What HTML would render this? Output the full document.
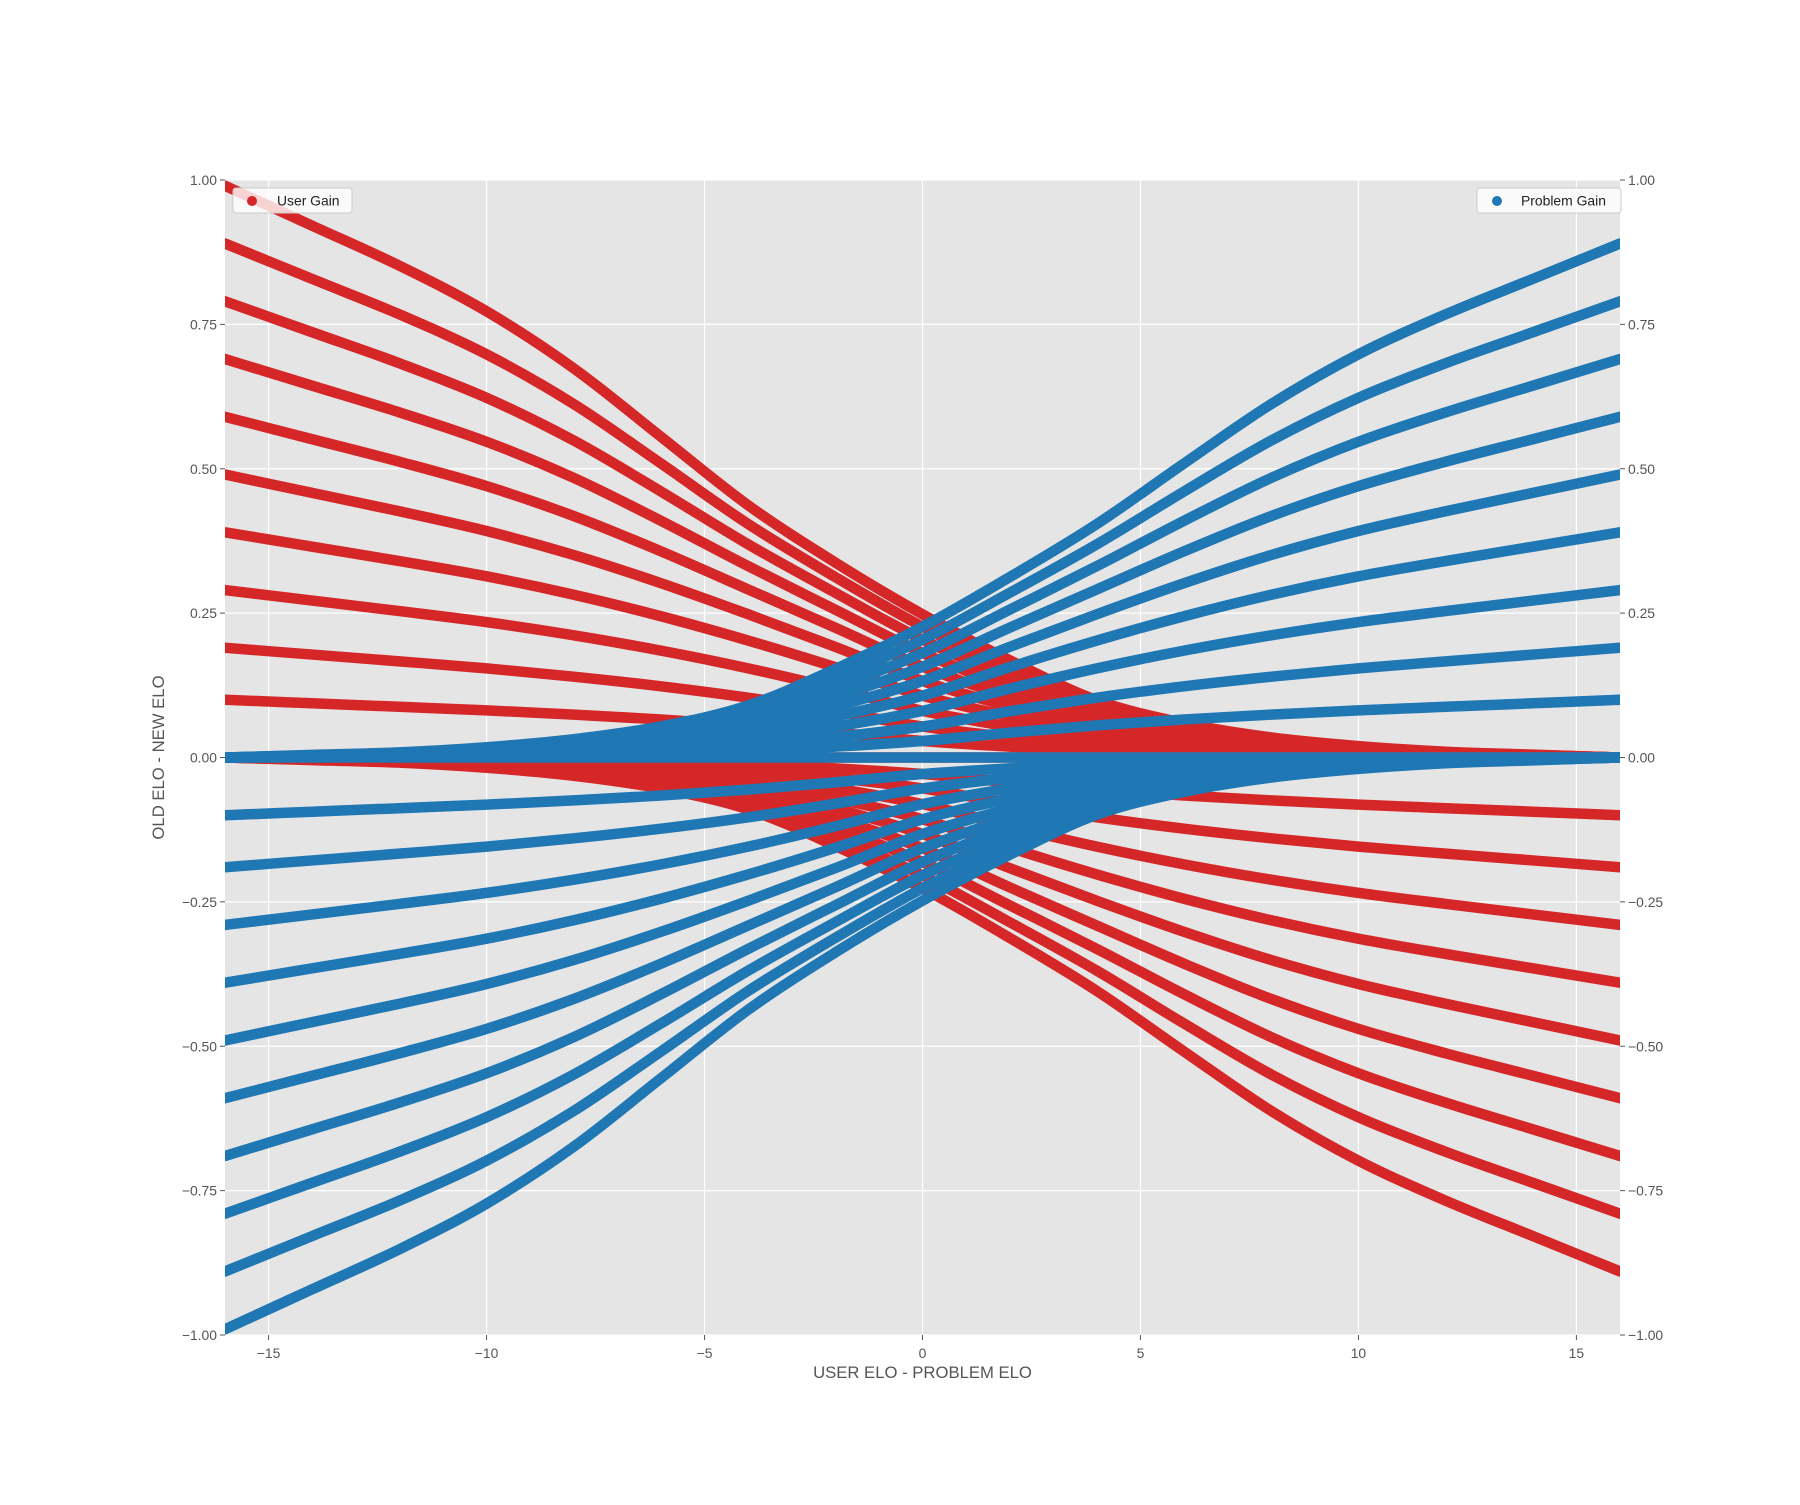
<!DOCTYPE html>
<html><head><meta charset="utf-8"><style>
html,body{margin:0;padding:0;background:#fff;}
svg text{font-family:"Liberation Sans","DejaVu Sans",sans-serif;}
</style></head><body>
<svg id="chart" width="1800" height="1500" viewBox="0 0 1800 1500" xmlns="http://www.w3.org/2000/svg">
<defs><clipPath id="plotclip"><rect x="225" y="180" width="1395" height="1155"/></clipPath></defs>
<rect x="225" y="180" width="1395" height="1155" fill="#e5e5e5"/>
<g id="grid"></g>
<g id="ticks"></g>
<g id="series" clip-path="url(#plotclip)"></g>
<text x="922.5" y="1378" text-anchor="middle" font-size="16.7" fill="#555">USER ELO - PROBLEM ELO</text>
<text transform="translate(164,757.5) rotate(-90)" text-anchor="middle" font-size="16.7" fill="#555">OLD ELO - NEW ELO</text>
<g>
<rect x="233" y="188" width="119" height="25" rx="3" fill="#ffffff" fill-opacity="0.8" stroke="#cccccc" stroke-width="1"/>
<circle cx="252" cy="201" r="5" fill="#d62728"/>
<text x="277" y="205.5" font-size="13.9" fill="#222">User Gain</text>
</g>
<g>
<rect x="1477" y="188" width="144" height="25" rx="3" fill="#ffffff" fill-opacity="0.8" stroke="#cccccc" stroke-width="1"/>
<circle cx="1497" cy="201" r="5" fill="#1f77b4"/>
<text x="1521" y="205.5" font-size="13.9" fill="#222">Problem Gain</text>
</g>
</svg>
<script>
const xSamples = [-16,-14,-12,-10,-8,-6,-4,-2,0,2,4,6,8,10,12,14,16];
const topShape = [1.0,0.93,0.86,0.78,0.68,0.56,0.44,0.34,0.25,0.17,0.10,0.06,0.035,0.02,0.01,0.005,0.0];
const linShape = [1.0,0.94,0.88,0.82,0.75,0.67,0.57,0.44,0.29,0.19,0.11,0.065,0.04,0.02,0.01,0.005,0.0];
const userLeftStart = [0.99,0.89,0.79,0.69,0.59,0.49,0.39,0.29,0.19,0.10];
const userRightEnd = [0.89,0.79,0.69,0.59,0.49,0.39,0.29,0.19,0.10,0.0];
const xTicks = [-15,-10,-5,0,5,10,15];
const xTickLabels = ["\u221215","\u221210","\u22125","0","5","10","15"];
const yTicks = [-1,-0.75,-0.5,-0.25,0,0.25,0.5,0.75,1];
const yTickLabels = ["\u22121.00","\u22120.75","\u22120.50","\u22120.25","0.00","0.25","0.50","0.75","1.00"];

const NS = "http://www.w3.org/2000/svg";
const X0 = 225, X1 = 1620, Y0 = 180, Y1 = 1335;
function sx(v){ return X0 + (v + 16) / 32 * (X1 - X0); }
function sy(v){ return Y1 - (v + 1) / 2 * (Y1 - Y0); }

const grid = document.getElementById('grid');
const ticks = document.getElementById('ticks');
xTicks.forEach((t, i) => {
  const l = document.createElementNS(NS, 'line');
  
  
  l.setAttribute('x1', sx(t)); l.setAttribute('x2', sx(t));
  l.setAttribute('y1', Y0); l.setAttribute('y2', Y1);
  l.setAttribute('stroke', '#fff'); l.setAttribute('stroke-width', '1.2');
  grid.appendChild(l);
  const tk = document.createElementNS(NS, 'line');
  
  
  tk.setAttribute('x1', sx(t)); tk.setAttribute('x2', sx(t));
  tk.setAttribute('y1', Y1); tk.setAttribute('y2', Y1 + 5);
  tk.setAttribute('stroke', '#555'); tk.setAttribute('stroke-width', '1');
  ticks.appendChild(tk);
  const tx = document.createElementNS(NS, 'text');
  
  
  tx.setAttribute('x', sx(t)); tx.setAttribute('y', Y1 + 23);
  tx.setAttribute('text-anchor', 'middle'); tx.setAttribute('font-size', '13.9'); tx.setAttribute('fill', '#555');
  tx.textContent = xTickLabels[i];
  ticks.appendChild(tx);
});
yTicks.forEach((t, i) => {
  const l = document.createElementNS(NS, 'line');
  
  
  l.setAttribute('x1', X0); l.setAttribute('x2', X1);
  l.setAttribute('y1', sy(t)); l.setAttribute('y2', sy(t));
  l.setAttribute('stroke', '#fff'); l.setAttribute('stroke-width', '1.2');
  grid.appendChild(l);
  [[X0 - 5, X0, X0 - 8, 'end', 'left'], [X1, X1 + 5, X1 + 8, 'start', 'right']].forEach(s => {
    const tk = document.createElementNS(NS, 'line');
    
    
    tk.setAttribute('x1', s[0]); tk.setAttribute('x2', s[1]);
    tk.setAttribute('y1', sy(t)); tk.setAttribute('y2', sy(t));
    tk.setAttribute('stroke', '#555'); tk.setAttribute('stroke-width', '1');
    ticks.appendChild(tk);
    const tx = document.createElementNS(NS, 'text');
    
    
    tx.setAttribute('x', s[2]); tx.setAttribute('y', sy(t) + 5);
    tx.setAttribute('text-anchor', s[3]); tx.setAttribute('font-size', '13.9'); tx.setAttribute('fill', '#555');
    tx.textContent = yTickLabels[i];
    ticks.appendChild(tx);
  });
});

function shapeFor(w){ return topShape.map((v, k) => w * v + (1 - w) * linShape[k]); }
function pathFrom(pts){
  let d = 'M' + pts[0][0] + ',' + pts[0][1];
  for (let i = 0; i < pts.length - 1; i++) {
    const p0 = pts[Math.max(i - 1, 0)], p1 = pts[i], p2 = pts[i + 1], p3 = pts[Math.min(i + 2, pts.length - 1)];
    const c1x = p1[0] + (p2[0] - p0[0]) / 6, c1y = p1[1] + (p2[1] - p0[1]) / 6;
    const c2x = p2[0] - (p3[0] - p1[0]) / 6, c2y = p2[1] - (p3[1] - p1[1]) / 6;
    d += ' C' + c1x + ',' + c1y + ' ' + c2x + ',' + c2y + ' ' + p2[0] + ',' + p2[1];
  }
  return d;
}
const series = document.getElementById('series');
function drawCurve(vals, color, name){
  const pts = xSamples.map((x, k) => [sx(x), sy(vals[k])]);
  const p = document.createElementNS(NS, 'path');
  
  
  p.setAttribute('d', pathFrom(pts));
  p.setAttribute('fill', 'none'); p.setAttribute('stroke', color);
  p.setAttribute('stroke-width', '10.5'); p.setAttribute('stroke-linecap', 'round');
  series.appendChild(p);
}
const redCurves = [];
userLeftStart.forEach(L => {
  const s = shapeFor(L);
  redCurves.push(s.map(v => L * v));
});
userRightEnd.forEach(R => {
  const s = shapeFor(R).slice().reverse();
  redCurves.push(s.map(v => -R * v));
});
redCurves.forEach(c => drawCurve(c, '#d62728', 'user-gain-curve'));
redCurves.forEach(c => drawCurve(c.map(v => -v), '#1f77b4', 'problem-gain-curve'));
</script>
</body></html>
